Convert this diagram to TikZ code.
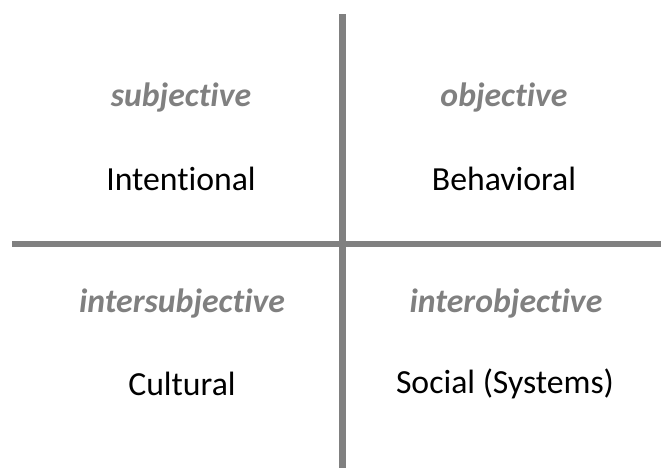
\documentclass[tikz,border=0pt]{standalone}
\usepackage{fontspec}
\setmainfont{Carlito}[Ligatures=NoCommon]
\definecolor{axisgray}{HTML}{808080}
\tikzset{
  axis/.style={draw=axisgray, line width=5pt},
  kind/.style={text=axisgray, font=\fontsize{25.3}{30}\selectfont\bfseries\itshape},
  quadname/.style={font=\fontsize{25.3}{30}\selectfont},
}
\begin{document}
\begin{tikzpicture}[x=0.75pt, y=-0.75pt]
\useasboundingbox (0,0) rectangle (661,468);
\coordinate (T) at (342.5,14);
\coordinate (B) at (342.5,468);
\coordinate (L) at (12,244);
\coordinate (R) at (661,244);
\draw[axis] (T) -- (B);
\draw[axis] (L) -- (R);
\node[kind] (P_0_0) at (181,98) {subjective};
\node[quadname] (P_0_1) at (181,179) {Intentional};
\node[kind] (P_1_0) at (504,98) {objective};
\node[quadname] (P_1_1) at (504,179) {Behavioral};
\node[kind] (P_0_2) at (182,304) {intersubjective};
\node[quadname] (P_0_3) at (182,384) {Cultural};
\node[kind] (P_1_2) at (506,304) {interobjective};
\node[quadname] (P_1_3) at (505,384) {Social (Systems)};
\end{tikzpicture}
\end{document}
